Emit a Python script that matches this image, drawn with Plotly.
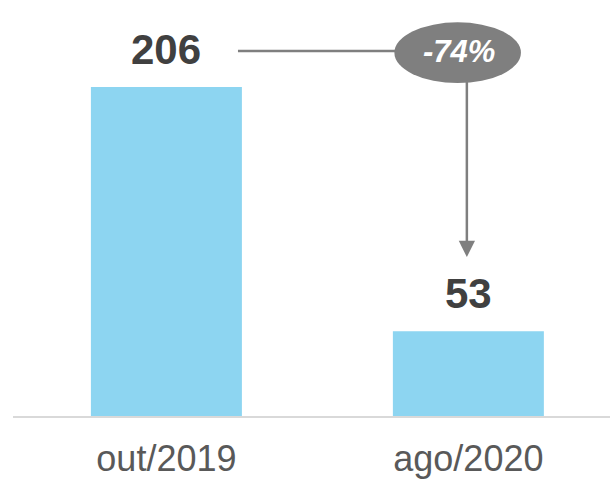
import plotly.graph_objects as go

categories = ["out/2019", "ago/2020"]
values = [206, 53]
change_label = "-74%"

bar_color = "#8DD5F1"
fig = go.Figure()
fig.add_trace(go.Bar(
    x=categories, y=values, marker=dict(color=bar_color, line=dict(width=0)),
    width=0.5, hoverinfo="skip",
))

for c, v in zip(categories, values):
    fig.add_annotation(x=c, y=v, text=f"<b>{v}</b>", showarrow=False,
                       yanchor="bottom", yshift=12,
                       font=dict(family="Liberation Sans, Arial", size=42, color="#404040"))

gray = "#7F7F7F"
# horizontal connector from first label to the ellipse
fig.add_shape(type="line", x0=0.237, x1=0.76, y0=228.6, y1=228.6,
              line=dict(color=gray, width=2.5), layer="above")
# ellipse badge
fig.add_shape(type="circle", x0=0.755, x1=1.174, y0=208.5, y1=246.5,
              fillcolor=gray, line=dict(width=0), layer="above")
fig.add_annotation(x=0.97, y=228, text=f"<b><i>{change_label}</i></b>", showarrow=False,
                   font=dict(family="Liberation Sans, Arial", size=31, color="white"))
# downward arrow
fig.add_annotation(x=0.995, y=values[1] + 46.5, ax=0.995, ay=211, axref="x", ayref="y",
                   xref="x", yref="y", text="", showarrow=True,
                   arrowhead=2, arrowsize=1.3, arrowwidth=2.5, arrowcolor=gray)

fig.update_layout(
    width=610, height=482,
    margin=dict(l=13, r=0, t=0, b=66),
    paper_bgcolor="white", plot_bgcolor="white",
    showlegend=False,
    xaxis=dict(type="category", range=[-0.508, 1.469], showgrid=False,
               showline=True, linecolor="#D9D9D9", linewidth=2,
               ticks="", ticklabelstandoff=10,
               tickfont=dict(family="Liberation Sans, Arial", size=36, color="#595959")),
    yaxis=dict(range=[0, 260.5], visible=False, showgrid=False, zeroline=False),
)

fig.write_html("out.html", config={"displayModeBar": False},
               post_script="document.body.style.margin='0';document.body.style.overflow='hidden';")
